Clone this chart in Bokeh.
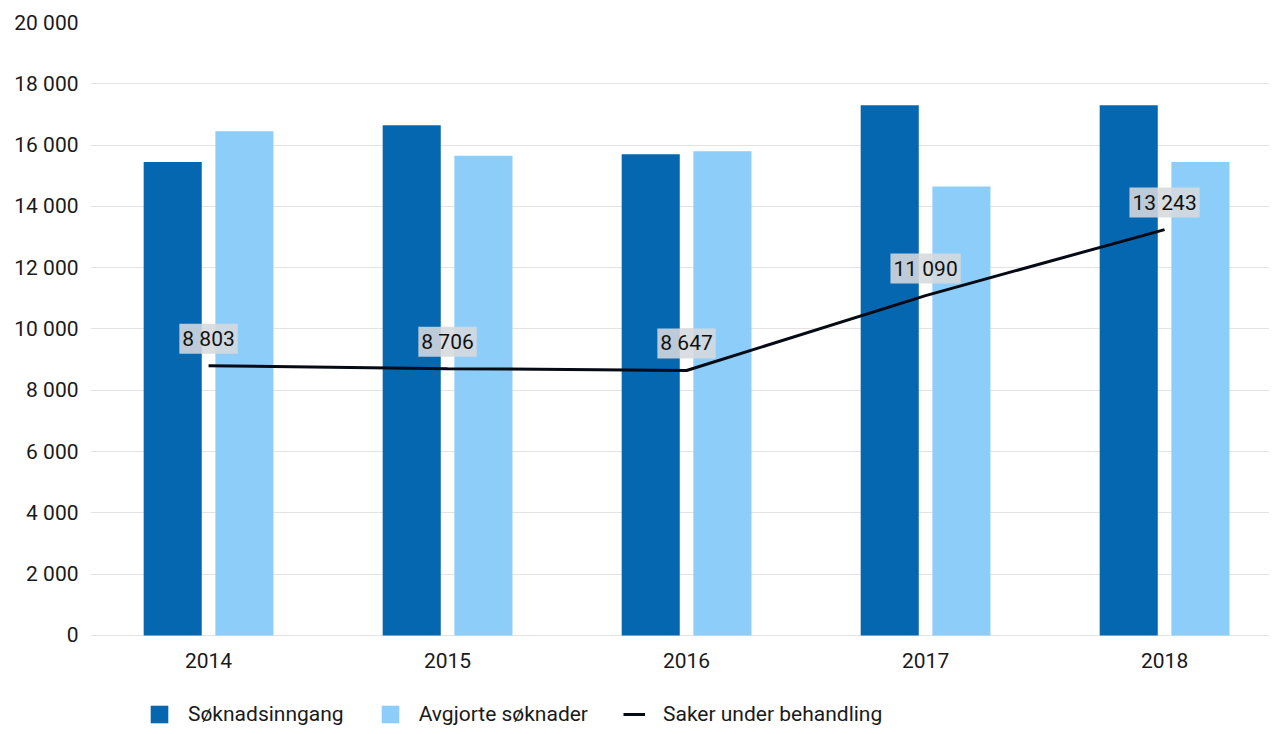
from bokeh.plotting import figure
from bokeh.models import Range1d, FixedTicker, Legend, LegendItem, Label, ColumnDataSource
from bokeh.transform import dodge
from bokeh.embed import file_html
from bokeh.resources import INLINE

years = ["2014", "2015", "2016", "2017", "2018"]
soknadsinngang = [15450, 16650, 15700, 17300, 17300]
avgjorte = [16450, 15650, 15800, 14650, 15450]
under_behandling = [8803, 8706, 8647, 11090, 13243]
line_labels = ["8 803", "8 706", "8 647", "11 090", "13 243"]
y_ticks = [0, 2000, 4000, 6000, 8000, 10000, 12000, 14000, 16000, 18000, 20000]
y_tick_labels = ["0", "2 000", "4 000", "6 000", "8 000", "10 000", "12 000",
                 "14 000", "16 000", "18 000", "20 000"]

idx = list(range(len(years)))
src = ColumnDataSource(dict(x=idx, a=soknadsinngang, b=avgjorte, c=under_behandling))

FONT = "Roboto"
DARK = "#0467B0"
LIGHT = "#8DCDF9"

p = figure(width=1269, height=726, output_backend="svg", toolbar_location=None,
           x_range=Range1d(-0.494, 4.439), y_range=Range1d(-2970, 20000),
           min_border_left=90, min_border_right=0, min_border_top=22, min_border_bottom=0)
p.outline_line_color = None
p.background_fill_color = "white"
p.border_fill_color = "white"

r1 = p.vbar(x=dodge("x", -0.15, range=p.x_range), top="a", bottom=0, width=0.243,
            source=src, fill_color=DARK, line_color=None)
r2 = p.vbar(x=dodge("x", 0.15, range=p.x_range), top="b", bottom=0, width=0.243,
            source=src, fill_color=LIGHT, line_color=None)
r3 = p.line(x="x", y="c", source=src, line_color="#050a14", line_width=3)

for i, v, t in zip(idx, under_behandling, line_labels):
    p.add_layout(Label(x=i, y=v, y_offset=27, text=t, text_align="center",
                       text_baseline="middle", text_font=FONT, text_font_size="21px",
                       text_color="#111111", background_fill_color="#d6d9dc",
                       background_fill_alpha=0.88, padding=3))

p.xgrid.grid_line_color = None
p.ygrid.grid_line_color = "#e3e3e3"
p.ygrid.grid_line_width = 1
p.ygrid.ticker = FixedTicker(ticks=y_ticks)

p.yaxis.ticker = FixedTicker(ticks=y_ticks)
p.yaxis.major_label_overrides = {t: l for t, l in zip(y_ticks, y_tick_labels)}
p.xaxis.ticker = FixedTicker(ticks=idx)
p.xaxis.major_label_overrides = {i: y for i, y in zip(idx, years)}
p.xaxis.fixed_location = 0
for ax in (p.xaxis, p.yaxis):
    ax.axis_line_color = None
    ax.major_tick_line_color = None
    ax.minor_tick_line_color = None
    ax.major_label_text_font = FONT
    ax.major_label_text_font_size = "21px"
    ax.major_label_text_color = "#1a1a1a"
p.yaxis.major_label_standoff = 6
p.xaxis.major_label_standoff = 12

legend = Legend(items=[LegendItem(label="Søknadsinngang", renderers=[r1]),
                       LegendItem(label="Avgjorte søknader", renderers=[r2]),
                       LegendItem(label="Saker under behandling", renderers=[r3])],
                orientation="horizontal", location=(58, 0))
legend.padding = 0
legend.margin = 0
legend.spacing = 35
legend.label_standoff = 18
legend.glyph_width = 22
legend.glyph_height = 22
legend.label_height = 22
legend.label_text_font = FONT
legend.label_text_font_size = "21px"
legend.label_text_color = "#1a1a1a"
legend.border_line_color = None
legend.background_fill_alpha = 0
p.add_layout(legend, "center")

open("out.html", "w").write(file_html(p, INLINE))
